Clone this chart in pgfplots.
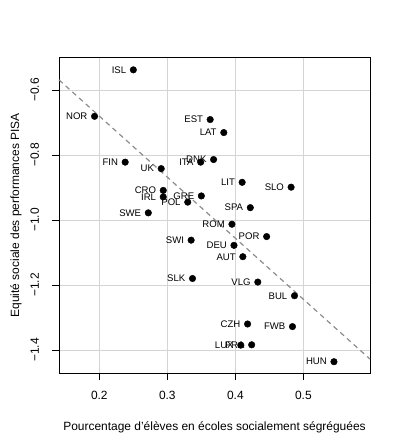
\documentclass[border=0pt]{standalone}
\usepackage{fontspec}
\setmainfont{Liberation Sans}
\usepackage{pgfplots}
\usepackage{pgfplotstable}
\pgfplotsset{compat=1.18}

\pgfplotstableread{
x y label
0.250 -0.538 ISL
0.193 -0.681 NOR
0.363 -0.691 EST
0.383 -0.731 LAT
0.238 -0.822 FIN
0.349 -0.822 ITA
0.368 -0.814 DNK
0.291 -0.842 UK
0.294 -0.909 CRO
0.294 -0.929 IRL
0.350 -0.926 GRE
0.330 -0.945 POL
0.272 -0.978 SWE
0.410 -0.884 LIT
0.482 -0.899 SLO
0.422 -0.962 SPA
0.395 -1.013 ROM
0.446 -1.051 POR
0.398 -1.078 DEU
0.411 -1.113 AUT
0.335 -1.062 SWI
0.337 -1.180 SLK
0.433 -1.191 VLG
0.487 -1.233 BUL
0.418 -1.320 CZH
0.484 -1.328 FWB
0.408 -1.385 LUX
0.424 -1.384 FRA
0.545 -1.436 HUN
}\datatable

\begin{document}
\begin{tikzpicture}
\path[use as bounding box] (-59bp,-73.7bp) rectangle (340bp,373.3bp);
\begin{axis}[
  at={(0,0)}, anchor=south west,
  scale only axis,
  width=311bp, height=316bp,
  xmin=0.1407, xmax=0.598,
  ymin=-1.4717, ymax=-0.4994,
  xtick={0.2,0.3,0.4,0.5},
  xticklabels={0.2,0.3,0.4,0.5},
  ytick={-1.4,-1.2,-1.0,-0.8,-0.6},
  yticklabels={−1.4,−1.2,−1.0,−0.8,−0.6},
  tick pos=left,
  tick align=outside,
  major tick length=7bp,
  tick style={black, line width=0.8bp},
  axis line style={black, line width=0.8bp},
  grid=major,
  grid style={draw=black!17, line width=0.8bp},
  ticklabel style={font=\fontsize{12}{14}\selectfont},
  xticklabel style={anchor=center, yshift=-15bp},
  yticklabel style={anchor=center, xshift=-17.3bp, rotate=90},
  label style={font=\fontsize{12}{14}\selectfont},
  xlabel={Pourcentage d'élèves en écoles socialement ségréguées},
  ylabel={Equité sociale des performances PISA},
  xlabel style={at={(axis description cs:0.5,-0.172)}, anchor=center},
  ylabel style={at={(axis description cs:-0.1383,0.5)}, anchor=center},
  clip=false,
]
\addplot [draw=black!45, line width=1.2bp, dash pattern=on 5bp off 4bp] coordinates {(0.1407,-0.569) (0.598,-1.428)};
\addplot [only marks, mark=*, mark size=3.3bp, mark options={fill=black, draw=black},
  nodes near coords, point meta=explicit symbolic,
  every node near coord/.append style={anchor=east, inner sep=0pt, xshift=-7bp, text=black, text depth=0pt, font=\fontsize{9.6}{10}\selectfont}]
  table [x=x, y=y, meta=label] {\datatable};
\end{axis}
\end{tikzpicture}
\end{document}
